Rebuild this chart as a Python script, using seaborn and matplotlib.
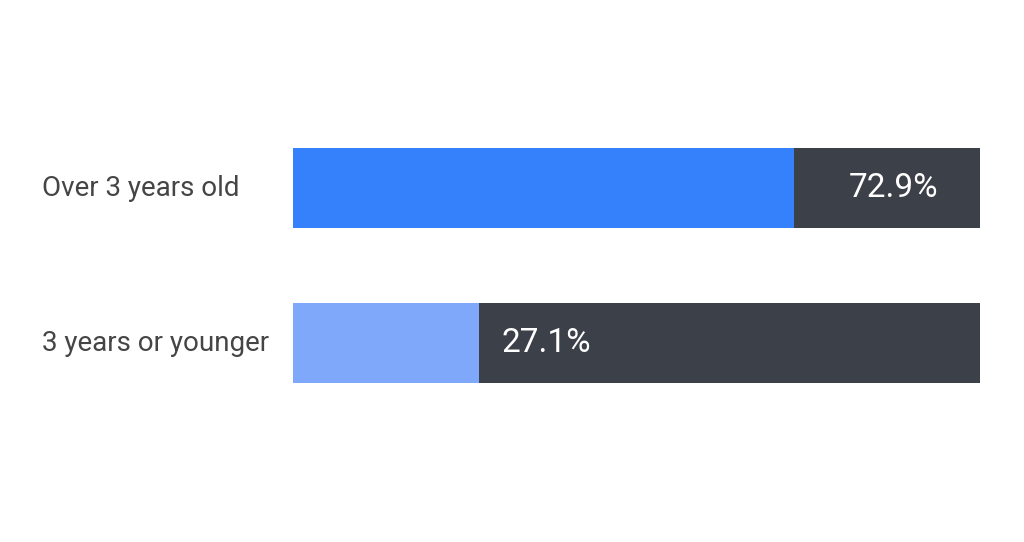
import matplotlib
matplotlib.use('Agg')
import matplotlib.pyplot as plt
import pandas as pd
import seaborn as sns

# ── data ─────────────────────────────────────────
categories = ['Over 3 years old', '3 years or younger']
shares = [72.9, 27.1]
totals = [100, 100]
share_colors = ['#3580FB', '#7FA8FA']
rest_color = '#3C4048'

df = pd.DataFrame({'category': categories, 'share': shares, 'total': totals})

sns.set_theme(style='white')
plt.rcParams['font.family'] = ['Roboto', 'DejaVu Sans']

fig = plt.figure(figsize=(10.24, 5.42), dpi=100)
ax = fig.add_axes([0.286, 0.224, 0.671, 0.572])

# dark remainder first, then the share on top
sns.barplot(data=df, x='total', y='category', color=rest_color,
            width=0.52, saturation=1, linewidth=0, ax=ax)
sns.barplot(data=df, x='share', y='category', hue='category',
            palette=share_colors, width=0.52, saturation=1,
            linewidth=0, legend=False, ax=ax)

ax.set_xlim(0, 100)
ax.set_ylim(1.5, -0.5)
ax.set_xlabel(''); ax.set_ylabel('')
ax.set_xticks([])
ax.set_yticks([])
for s in ax.spines.values():
    s.set_visible(False)

# category labels, left aligned near the figure edge
for i, cat in enumerate(categories):
    y_fig = ax.transData.transform((0, i))[1]
    fig.text(42 / 1024, y_fig / fig.dpi / fig.get_figheight(), cat,
             ha='left', va='center', fontsize=20, color='#454545')

# value labels inside the dark part
for i, v in enumerate(shares):
    rest = 100 - v
    if rest < 40:
        ax.text(v + rest / 2 + 1, i, f'{v}%', ha='center', va='center',
                fontsize=24, color='white')
    else:
        ax.text(v + 3.2, i, f'{v}%', ha='left', va='center',
                fontsize=24, color='white')

plt.savefig('out.png', dpi=100)
plt.close()
